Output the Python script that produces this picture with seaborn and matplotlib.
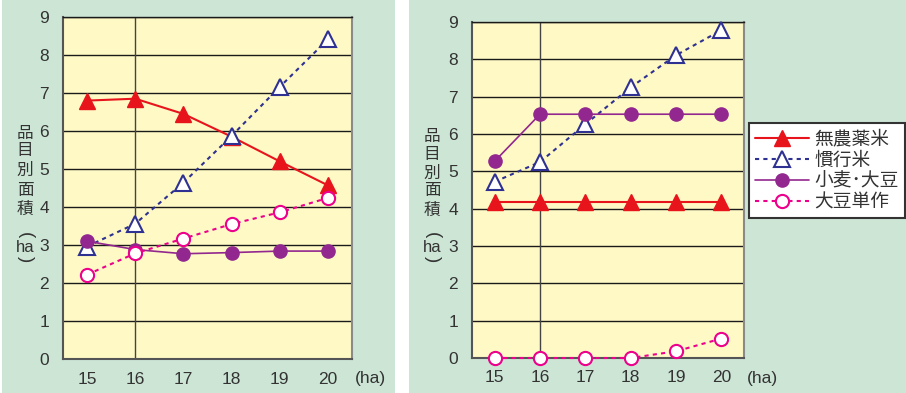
import matplotlib
matplotlib.use("Agg")
import matplotlib.pyplot as plt
import seaborn as sns
import pandas as pd
from matplotlib.patches import Rectangle

sns.set_style("white")
plt.rcParams["font.family"] = ["Liberation Sans", "Noto Sans CJK JP"]

# ---- data -------------------------------------------------------------
years = [15, 16, 17, 18, 19, 20]
year_labels = ["15", "16", "17", "18", "19", "20"]
y_ticks = [0, 1, 2, 3, 4, 5, 6, 7, 8, 9]
series_names = ["無農薬米", "慣行米", "小麦･大豆", "大豆単作"]

left_organic = [6.80, 6.85, 6.45, 5.85, 5.20, 4.57]
left_conventional = [2.96, 3.56, 4.64, 5.87, 7.16, 8.41]
left_wheat_soy = [3.10, 2.88, 2.77, 2.80, 2.84, 2.84]
left_soy_only = [2.22, 2.78, 3.17, 3.55, 3.86, 4.24]

right_organic = [4.17, 4.17, 4.17, 4.17, 4.17, 4.17]
right_conventional = [4.72, 5.25, 6.26, 7.25, 8.11, 8.78]
right_wheat_soy = [5.27, 6.53, 6.53, 6.53, 6.53, 6.53]
right_soy_only = [0.00, 0.00, 0.00, 0.00, 0.18, 0.52]

# ---- colours & styles -------------------------------------------------
GREEN = "#CCE5D5"
YELLOW = "#FFF9C5"
RED = "#E8141C"
NAVY = "#2E3192"
PURPLE = "#92278F"
MAGENTA = "#EC008C"
TEXT = "#333333"

styles = [
    dict(color=RED, marker="^", linestyle="-", markerfacecolor=RED,
         markeredgecolor=RED, markersize=11.5, markeredgewidth=1.0, linewidth=1.5),
    dict(color=NAVY, marker="^", linestyle=(0, (2, 2)), markerfacecolor="white",
         markeredgecolor=NAVY, markersize=11.5, markeredgewidth=1.5, linewidth=1.5),
    dict(color=PURPLE, marker="o", linestyle="-", markerfacecolor=PURPLE,
         markeredgecolor=PURPLE, markersize=9.5, markeredgewidth=1.0, linewidth=1.2),
    dict(color=MAGENTA, marker="o", linestyle=(0, (2, 2)), markerfacecolor="white",
         markeredgecolor=MAGENTA, markersize=9.5, markeredgewidth=1.5, linewidth=1.5),
]

W, H = 906, 393
fig = plt.figure(figsize=(W / 100, H / 100), dpi=100)
fig.patch.set_facecolor("white")


def fx(px):
    return px / W


def fy(py):
    return 1 - py / H


# green panels behind each chart
for x0, x1 in [(2, 395), (409, 906)]:
    fig.patches.append(Rectangle((fx(x0), 0), fx(x1 - x0), 1,
                                 transform=fig.transFigure, facecolor=GREEN,
                                 edgecolor="none", zorder=-1))


def draw_panel(rect, values):
    ax = fig.add_axes(rect)
    ax.set_facecolor(YELLOW)
    for name, vals, st in zip(series_names, values, styles):
        df = pd.DataFrame({"year": years, "area": vals})
        sns.lineplot(data=df, x="year", y="area", ax=ax, label=name,
                     clip_on=False, zorder=3, **st)
    ax.set_xlim(14.5, 20.5)
    ax.set_ylim(0, 9)
    ax.set_yticks(y_ticks)
    ax.set_xticks(years, year_labels)
    ax.set_xticks([15.5, 16.5, 17.5, 18.5, 19.5], minor=True)
    ax.set_axisbelow(True)
    ax.yaxis.grid(True, color="#1a1a1a", linewidth=1.0)
    ax.xaxis.grid(False)
    ax.axvline(16, color="#444444", linewidth=1.0, zorder=1)
    ax.tick_params(axis="x", which="minor", direction="in", length=4,
                   width=1, color="#444444")
    ax.tick_params(axis="x", which="major", length=0, pad=9,
                   labelsize=12.5, labelcolor=TEXT)
    ax.tick_params(axis="y", length=0, pad=10, labelsize=12.5, labelcolor=TEXT)
    ax.set_xlabel("")
    ax.set_ylabel("")
    for side, col, lw in [("left", "#555555", 1.5), ("bottom", "#555555", 1.5),
                          ("right", "#8a8a8a", 1.5), ("top", "#1a1a1a", 1.0)]:
        ax.spines[side].set_visible(True)
        ax.spines[side].set_color(col)
        ax.spines[side].set_linewidth(lw)
    if ax.get_legend() is not None:
        ax.get_legend().remove()
    return ax


ax_left = draw_panel([fx(63), fy(359), fx(352 - 63), (359 - 17) / H],
                     [left_organic, left_conventional, left_wheat_soy, left_soy_only])
ax_right = draw_panel([fx(472), fy(358), fx(744 - 472), (358 - 22) / H],
                      [right_organic, right_conventional, right_wheat_soy, right_soy_only])

# unit label after the x tick labels
for x in (355, 747):
    fig.text(fx(x), fy(378), "(ha)", fontsize=12.5, color=TEXT,
             ha="left", va="center")

# stacked vertical axis title
label_chars = ["品", "目", "別", "面", "積"]
for xc, ys in [(25, [133, 151, 170, 190, 209]), (432, [137, 154, 173, 191, 210])]:
    for ch, yc in zip(label_chars, ys):
        fig.text(fx(xc), fy(yc), ch, fontsize=12, color=TEXT,
                 ha="center", va="center", family="Noto Sans CJK JP")
    fig.text(fx(xc), fy(235), "(", fontsize=13.5, color=TEXT, ha="center",
             va="center", rotation=-90, rotation_mode="anchor")
    fig.text(fx(xc), fy(247), "ha", fontsize=12, color=TEXT,
             ha="center", va="center")
    fig.text(fx(xc), fy(259), ")", fontsize=13.5, color=TEXT, ha="center",
             va="center", rotation=-90, rotation_mode="anchor")

handles, labels = ax_right.get_legend_handles_labels()
leg = fig.legend(handles, labels, loc="upper left",
                 bbox_to_anchor=(fx(749), fy(123)), bbox_transform=fig.transFigure,
                 frameon=True, fancybox=False, framealpha=1, edgecolor="#333333",
                 facecolor="white", borderaxespad=0, borderpad=0.3,
                 handlelength=2.9, handletextpad=0.3, labelspacing=0.0,
                 prop={"family": "Noto Sans CJK JP", "size": 13.5})
leg.get_frame().set_linewidth(1.5)
for t in leg.get_texts():
    t.set_color(TEXT)

fig.savefig("out.png", dpi=100)
